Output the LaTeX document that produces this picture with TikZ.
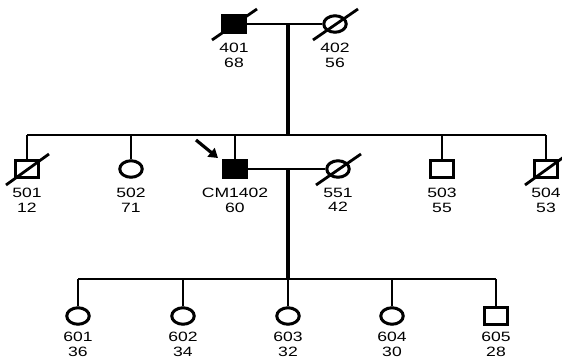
\documentclass[tikz,border=0pt]{standalone}
\usepackage{fontspec}
\setmainfont{Liberation Sans}
\usetikzlibrary{shapes.geometric,arrows.meta}
\tikzset{
  ind/.style={draw, line width=3pt, minimum width=22.5pt, minimum height=16.5pt, inner sep=0pt},
  male/.style={ind, rectangle},
  female/.style={ind, ellipse, minimum width=22.5pt, minimum height=16.5pt},
  aff/.style={fill=black},
  ln/.style={line width=2.4pt},
  vln/.style={line width=3.4pt},
  slash/.style={line width=2.8pt},
  lbl/.style={font=\fontsize{13.5}{14.5}\selectfont, align=center, xscale=1.3, anchor=north, inner sep=0pt}
}
\begin{document}
\begin{tikzpicture}[x=1pt,y=-1pt]
\useasboundingbox (0,0) rectangle (562,362);
% Generation I
\node[male,aff] (p401) at (234,24) {};
\node[female] (p402) at (335,24) {};
\draw[ln] (p401) -- (p402);
\draw[slash] ([shift={(-22,16)}]p401.center) -- ([shift={(23,-15)}]p401.center);
\draw[slash] ([shift={(-22,16)}]p402.center) -- ([shift={(23,-15)}]p402.center);
\node[lbl] (l401) at (234,43) {401\\68};
\node[lbl] (l402) at (335,43) {402\\56};
\coordinate (m1) at (288,25);
\coordinate (s2) at (288,135);
\draw[vln] (m1) -- (s2);
% Generation II
\node[male] (p501) at (27,169) {};
\node[female] (p502) at (131,169) {};
\node[male,aff] (p1402) at (235,169) {};
\node[female] (p551) at (338,169) {};
\node[male] (p503) at (442,169) {};
\node[male] (p504) at (546,169) {};
\coordinate (h501) at (27,135);
\coordinate (h502) at (131,135);
\coordinate (h1402) at (235,135);
\coordinate (h503) at (442,135);
\coordinate (h504) at (546,135);
\draw[ln] (h501) -- (h504);
\draw[ln] (h501) -- (p501);
\draw[ln] (h502) -- (p502);
\draw[ln] (h1402) -- (p1402);
\draw[ln] (h503) -- (p503);
\draw[ln] (h504) -- (p504);
\draw[ln] (p1402) -- (p551);
\draw[slash] ([shift={(-21,16)}]p501.center) -- ([shift={(22,-15)}]p501.center);
\draw[slash] ([shift={(-22,16)}]p551.center) -- ([shift={(23,-15)}]p551.center);
\draw[slash] ([shift={(-21,16)}]p504.center) -- ([shift={(22,-15)}]p504.center);
\coordinate (arrS) at (196,140);
\coordinate (arrE) at (218,158);
\draw[line width=3.2pt, -{Triangle[length=9pt,width=11pt]}] (arrS) -- (arrE);
\node[lbl] (l501) at (27,188) {501\\12};
\node[lbl] (l502) at (131,188) {502\\71};
\node[lbl] (l1402) at (235,188) {CM1402\\60};
\node[lbl] (l551) at (338,188) {551\\42};
\node[lbl] (l503) at (442,188) {503\\55};
\node[lbl] (l504) at (546,188) {504\\53};
\coordinate (m2) at (288,170);
\coordinate (s3) at (288,279);
\draw[vln] (m2) -- (s3);
% Generation III
\node[female] (p601) at (78,316) {};
\node[female] (p602) at (183,316) {};
\node[female] (p603) at (288,316) {};
\node[female] (p604) at (392,316) {};
\node[male] (p605) at (496,316) {};
\coordinate (h601) at (78,279);
\coordinate (h602) at (183,279);
\coordinate (h603) at (288,279);
\coordinate (h604) at (392,279);
\coordinate (h605) at (496,279);
\draw[ln] (h601) -- (h605);
\draw[ln] (h601) -- (p601);
\draw[ln] (h602) -- (p602);
\draw[ln] (h603) -- (p603);
\draw[ln] (h604) -- (p604);
\draw[ln] (h605) -- (p605);
\node[lbl] (l601) at (78,332) {601\\36};
\node[lbl] (l602) at (183,332) {602\\34};
\node[lbl] (l603) at (288,332) {603\\32};
\node[lbl] (l604) at (392,332) {604\\30};
\node[lbl] (l605) at (496,332) {605\\28};
\end{tikzpicture}
\end{document}
